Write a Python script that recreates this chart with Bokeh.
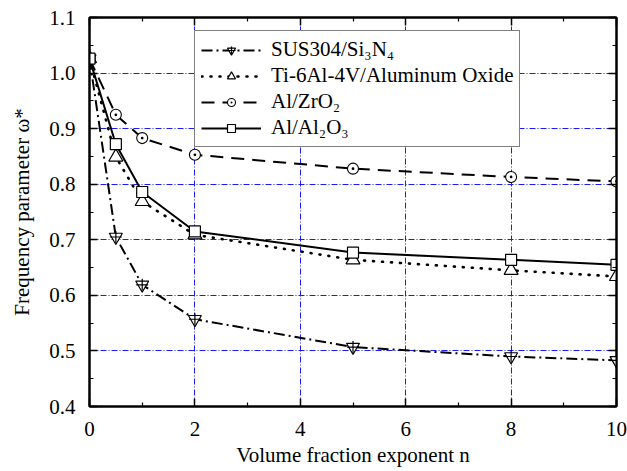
from bokeh.embed import file_html
from bokeh.models import (CustomJSTickFormatter, FixedTicker, Legend,
                          LegendItem, LinearAxis, NumeralTickFormatter,
                          Range1d)
from bokeh.plotting import figure
from bokeh.resources import INLINE

# Volume fraction exponent n and the frequency parameter for each material pair
n_values = [0, 0.5, 1, 2, 5, 8, 10]
sus304_si3n4 = [1.026, 0.705, 0.619, 0.557, 0.507, 0.490, 0.483]
ti6al4v_alox = [1.026, 0.849, 0.769, 0.709, 0.664, 0.645, 0.634]
al_zro2 = [1.026, 0.925, 0.883, 0.853, 0.828, 0.813, 0.805]
al_al2o3 = [1.026, 0.872, 0.786, 0.715, 0.677, 0.664, 0.655]

x_major = [0, 2, 4, 6, 8, 10]
x_minor = [1, 3, 5, 7, 9]
y_major = [0.4, 0.5, 0.6, 0.7, 0.8, 0.9, 1.0, 1.1]
y_minor = [0.45, 0.55, 0.65, 0.75, 0.85, 0.95, 1.05]

series_names = ["SUS304/Si₃N₄", "Ti-6Al-4V/Aluminum Oxide", "Al/ZrO₂", "Al/Al₂O₃"]
x_title = "Volume fraction exponent n"
y_title = "Frequency parameter ω*"

FONT = "Liberation Serif, Times New Roman, serif"
FS = "21px"

p = figure(width=627, height=471, output_backend="svg", toolbar_location=None,
           x_range=Range1d(0, 10), y_range=Range1d(0.4, 1.1),
           min_border_left=89, min_border_right=11, min_border_top=17,
           min_border_bottom=65, background_fill_color="white",
           border_fill_color="white")
p.outline_line_color = "black"
p.outline_line_width = 2

xt = FixedTicker(ticks=x_major, minor_ticks=x_minor)
yt = FixedTicker(ticks=y_major, minor_ticks=y_minor)


def style_axis(ax, show_labels):
    ax.axis_line_color = "black"
    ax.axis_line_width = 2
    ax.major_tick_in = 8
    ax.major_tick_out = 0
    ax.minor_tick_in = 4
    ax.minor_tick_out = 0
    ax.major_tick_line_color = "black"
    ax.major_tick_line_width = 1.5
    ax.minor_tick_line_color = "black"
    ax.minor_tick_line_width = 1.2
    if show_labels:
        ax.major_label_text_font = FONT
        ax.major_label_text_font_size = FS
        ax.major_label_text_color = "black"
        ax.axis_label_text_font = FONT
        ax.axis_label_text_font_size = FS
        ax.axis_label_text_font_style = "normal"
        ax.axis_label_text_color = "black"
    else:
        ax.formatter = CustomJSTickFormatter(code="return ''")
        ax.major_label_standoff = 0
        ax.axis_label = None


p.xaxis.ticker = xt
p.yaxis.ticker = yt
p.yaxis.formatter = NumeralTickFormatter(format="0.0")
style_axis(p.xaxis[0], True)
style_axis(p.yaxis[0], True)
p.xaxis.axis_label = x_title
p.yaxis.axis_label = y_title
p.xaxis.major_label_standoff = 15
p.yaxis.major_label_standoff = 14
p.xaxis.axis_label_standoff = 4
p.yaxis.axis_label_standoff = 12

right_ax = LinearAxis(ticker=yt)
top_ax = LinearAxis(ticker=xt)
style_axis(right_ax, False)
style_axis(top_ax, False)
p.add_layout(right_ax, "right")
p.add_layout(top_ax, "above")

for g in (p.xgrid[0], p.ygrid[0]):
    g.grid_line_color = "#1a1aff"
    g.grid_line_width = 1
    g.grid_line_dash = "6 2 1 2"
p.xgrid.ticker = xt
p.ygrid.ticker = yt

# Series
l1 = p.line(n_values, sus304_si3n4, line_color="black", line_width=2,
            line_dash="11 4 2 4")
m1a = p.scatter(n_values, sus304_si3n4, marker="inverted_triangle", size=13,
                fill_color="white", line_color="black", line_width=1.2)
m1b = p.scatter(n_values, sus304_si3n4, marker="cross", size=12,
                line_color="black", line_width=1.2)

l2 = p.line(n_values, ti6al4v_alox, line_color="black", line_width=2.6,
            line_dash="1 8", line_cap="round")
m2 = p.scatter(n_values, ti6al4v_alox, marker="triangle", size=14,
               fill_color="white", line_color="black", line_width=1.2)

l3 = p.line(n_values, al_zro2, line_color="black", line_width=2,
            line_dash="13 8")
m3 = p.scatter(n_values, al_zro2, marker="circle_dot", size=11,
               fill_color="white", line_color="black", line_width=1.1)

l4 = p.line(n_values, al_al2o3, line_color="black", line_width=2)
m4 = p.scatter(n_values, al_al2o3, marker="square", size=11,
               fill_color="white", line_color="black", line_width=1.2)

legend = Legend(items=[
    LegendItem(label=series_names[0], renderers=[l1, m1a, m1b]),
    LegendItem(label=series_names[1], renderers=[l2, m2]),
    LegendItem(label=series_names[2], renderers=[l3, m3]),
    LegendItem(label=series_names[3], renderers=[l4, m4]),
], location=(105, 259))
legend.label_text_font = FONT
legend.label_text_font_size = FS
legend.label_text_color = "black"
legend.label_height = 25
legend.glyph_height = 20
legend.glyph_width = 60
legend.label_standoff = 10
legend.padding = 6
legend.spacing = 1
legend.margin = 0
legend.border_line_color = "black"
legend.border_line_width = 1.5
legend.background_fill_color = "white"
legend.background_fill_alpha = 1
p.add_layout(legend)

open("out.html", "w").write(file_html(p, INLINE))
